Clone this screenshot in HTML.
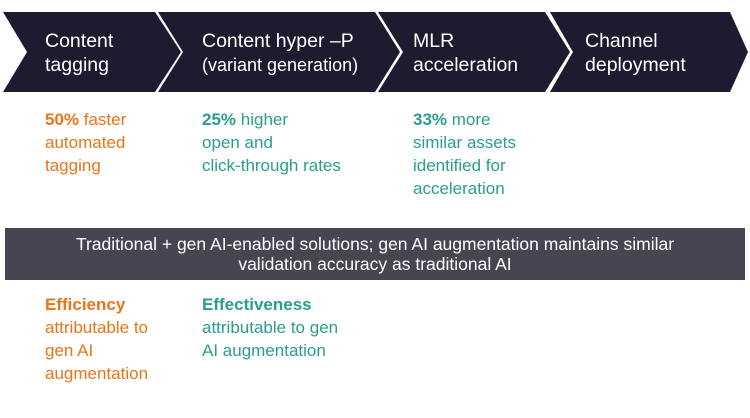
<!DOCTYPE html>
<html><head><meta charset="utf-8"><style>
body{margin:0;width:750px;height:418px;background:#fff;font-family:"Liberation Sans","DejaVu Sans",sans-serif;position:relative;overflow:hidden}
.t{position:absolute;color:#fff;font-size:19.5px;line-height:24px}
.s{position:absolute;font-size:17px;line-height:23px}
.o{color:#ec7418}.g{color:#2a9d8f}
b{font-weight:bold}
.bar{position:absolute;left:5px;top:228px;width:740px;height:52px;background:#474552;color:#fff;font-size:17.5px;line-height:20px;text-align:center;box-sizing:border-box;padding-top:6px;white-space:nowrap}
</style></head><body>
<svg width="750" height="100" style="position:absolute;left:0;top:0">
<g fill="#1d1b2f">
<polygon points="3,12 155,12 181,52 155,92 3,92 27,52"/>
<polygon points="158,12 375,12 400,52 375,92 158,92 183,52"/>
<polygon points="378,12 545,12 570,52 545,92 378,92 403,52"/>
<polygon points="550,12 730,12 748,52 730,92 550,92 573,52"/>
</g></svg>
<div class="t" style="left:45px;top:29px">Content<br>tagging</div>
<div class="t" style="left:202px;top:29px">Content hyper –P<br><span style="font-size:18px">(variant generation)</span></div>
<div class="t" style="left:413px;top:29px">MLR<br>acceleration</div>
<div class="t" style="left:585px;top:29px">Channel<br>deployment</div>
<div class="s o" style="left:45px;top:108px"><b>50%</b> faster<br>automated<br>tagging</div>
<div class="s g" style="left:202px;top:108px"><b>25%</b> higher<br>open and<br>click-through rates</div>
<div class="s g" style="left:413px;top:108px"><b>33%</b> more<br>similar assets<br>identified for<br>acceleration</div>
<div class="bar">Traditional + gen AI-enabled solutions; gen AI augmentation maintains similar<br>validation accuracy as traditional AI</div>
<div class="s o" style="left:45px;top:293px"><b>Efficiency</b><br>attributable to<br>gen AI<br>augmentation</div>
<div class="s g" style="left:202px;top:293px"><b>Effectiveness</b><br>attributable to gen<br>AI augmentation</div>
</body></html>
